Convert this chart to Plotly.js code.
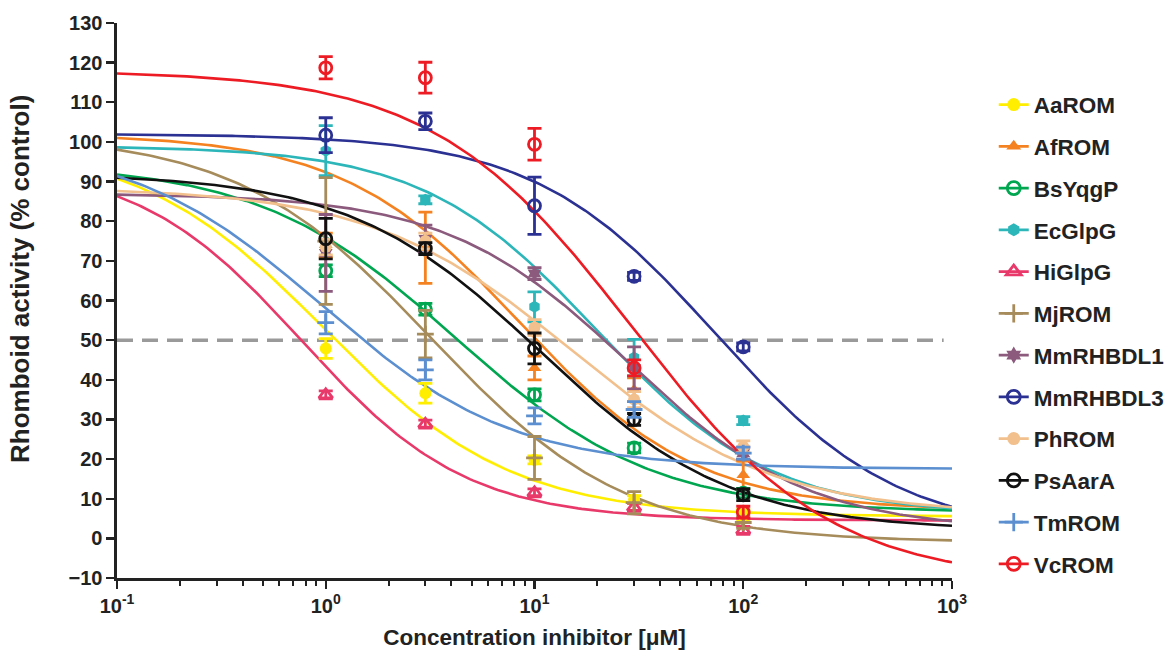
<!DOCTYPE html>
<html>
<head>
<meta charset="utf-8">
<script src="https://cdn.plot.ly/plotly-3.0.1.min.js"></script>
<style>
  html, body { margin: 0; padding: 0; background: #ffffff; }
  #chart { width: 1171px; height: 652px; }
</style>
</head>
<body>
<div id="chart"></div>
<script>
// ---------------- DATA ----------------
const doses = [1, 3, 10, 30, 100];            // µM
const seriesNames = ['AaROM', 'AfROM', 'BsYqgP', 'EcGlpG', 'HiGlpG', 'MjROM',
                     'MmRHBDL1', 'MmRHBDL3', 'PhROM', 'PsAarA', 'TmROM', 'VcROM'];

// mean activity (% control) at each dose
const AaROM    = [47.9, 36.6, 19.8, 9.8, 5.8];
const AfROM    = [74.0, 73.3, 43.0, 37.5, 16.0];
const BsYqgP   = [67.5, 57.8, 36.2, 22.8, 11.4];
const EcGlpG   = [97.8, 85.4, 58.4, 45.6, 29.7];
const HiGlpG   = [36.2, 28.8, 11.5, 7.8, 2.0];
const MjROM    = [75.0, 51.5, 20.3, 9.0, 4.0];
const MmRHBDL1 = [72.0, 75.5, 66.8, 43.0, 21.5];
const MmRHBDL3 = [101.7, 105.2, 83.9, 66.1, 48.3];
const PhROM    = [73.5, 75.0, 53.2, 35.0, 23.1];
const PsAarA   = [75.6, 73.1, 47.9, 30.0, 11.0];
const TmROM    = [54.4, 42.5, 30.9, 32.5, 21.5];
const VcROM    = [118.7, 116.2, 99.4, 43.0, 6.6];

// error (SEM) at each dose
const AaROM_err    = [2.5, 2.5, 1.0, 1.0, 1.5];
const AfROM_err    = [3.0, 9.0, 3.0, 3.0, 3.5];
const BsYqgP_err   = [1.5, 1.5, 1.5, 1.2, 1.2];
const EcGlpG_err   = [6.3, 1.0, 3.8, 4.6, 1.0];
const HiGlpG_err   = [1.0, 1.0, 1.0, 1.0, 1.0];
const MjROM_err    = [16.0, 6.0, 5.4, 2.8, 1.5];
const MmRHBDL1_err = [9.7, 3.5, 1.5, 5.3, 1.5];
const MmRHBDL3_err = [4.4, 2.1, 7.2, 1.0, 1.0];
const PhROM_err    = [2.0, 2.0, 2.0, 2.0, 1.5];
const PsAarA_err   = [5.1, 1.5, 3.9, 1.5, 1.5];
const TmROM_err    = [2.8, 2.5, 2.0, 2.0, 1.5];
const VcROM_err    = [2.8, 3.9, 4.0, 2.0, 1.5];

// four-parameter logistic fit of each series (top, bottom, IC50 [µM], Hill slope)
const fitTop    = [100, 102, 94.5, 99, 95, 102, 87, 102, 88.5, 92, 100, 118];
const fitBottom = [5.5, 7, 6.5, 6, 4.5, -1, 2, 1, 6, 2, 17.5, -11];
const fitIC50   = [0.99, 8.5, 4.2, 19.9, 0.77, 3.2, 28, 74, 15.2, 10.7, 0.96, 29.1];
const fitHill   = [0.97, 1.02, 0.92, 1.04, 1.1, 0.93, 1.0, 1.0, 0.9, 0.95, 0.95, 0.91];

const halfActivity = 50;   // dashed reference level
const xRange = [0.1, 1000];
const xTickVals = [0.1, 1, 10, 100, 1000];
const xTickText = ['10<sup>-1</sup>', '10<sup>0</sup>', '10<sup>1</sup>', '10<sup>2</sup>', '10<sup>3</sup>'];
const yRange = [-10, 130];

// ---------------- STYLE ----------------
const colors = ['#FFEE00', '#F58220', '#00A650', '#2DB6B9', '#E8396A', '#A68B5B',
                '#8B5A7D', '#2B3192', '#F2C08C', '#111111', '#5B8FD0', '#ED1C24'];
const symbols = ['circle', 'triangle-up', 'circle-open', 'hexagon', 'triangle-up-open',
                 'cross-thin-open', 'hexagram', 'circle-open', 'circle', 'circle-open',
                 'cross-thin-open', 'circle-open'];

const means = [AaROM, AfROM, BsYqgP, EcGlpG, HiGlpG, MjROM, MmRHBDL1, MmRHBDL3, PhROM, PsAarA, TmROM, VcROM];
const errs  = [AaROM_err, AfROM_err, BsYqgP_err, EcGlpG_err, HiGlpG_err, MjROM_err,
               MmRHBDL1_err, MmRHBDL3_err, PhROM_err, PsAarA_err, TmROM_err, VcROM_err];

function markerFor(i, size) {
  const open = symbols[i].indexOf('open') >= 0;
  return {
    symbol: symbols[i], size: size, color: colors[i],
    line: { color: colors[i], width: open ? 2.8 : 0 }
  };
}

// sample positions along the log axis for the fitted curves
const nCurve = 240;
const lo = Math.log10(xRange[0]), hi = Math.log10(xRange[1]);
const curveX = [];
for (let k = 0; k < nCurve; k++) curveX.push(Math.pow(10, lo + (hi - lo) * k / (nCurve - 1)));

const traces = [];
// fitted curves
seriesNames.forEach((nm, i) => {
  const y = curveX.map(x => fitBottom[i] + (fitTop[i] - fitBottom[i]) /
                              (1 + Math.pow(x / fitIC50[i], fitHill[i])));
  traces.push({
    type: 'scatter', mode: 'lines', x: curveX, y: y,
    line: { color: colors[i], width: 2.6 },
    showlegend: false, hoverinfo: 'skip'
  });
});
// data points with error bars
seriesNames.forEach((nm, i) => {
  traces.push({
    type: 'scatter', mode: 'markers', x: doses, y: means[i],
    marker: markerFor(i, 12),
    error_y: { type: 'data', array: errs[i], visible: true,
               color: colors[i], thickness: 2.8, width: 7 },
    showlegend: false, name: nm
  });
});
// legend entries
seriesNames.forEach((nm, i) => {
  traces.push({
    type: 'scatter', mode: 'lines+markers', x: [null], y: [null], name: nm,
    legendgroup: nm,
    line: { color: colors[i], width: 2.8 },
    marker: markerFor(i, 13),
    showlegend: true
  });
});

const fontFam = '"Liberation Sans", Arial, Helvetica, sans-serif';
const layout = {
  width: 1171, height: 652,
  margin: { l: 117, r: 219, t: 23, b: 74, autoexpand: false },
  paper_bgcolor: '#ffffff', plot_bgcolor: '#ffffff',
  font: { family: fontFam, color: '#222222', size: 20, weight: 700 },
  showlegend: true,
  legend: {
    x: 1.05, xanchor: 'left', y: 0.891, yanchor: 'top',
    font: { family: fontFam, size: 22.5, color: '#222222', weight: 700 },
    tracegroupgap: 9.5, itemwidth: 30, bgcolor: 'rgba(0,0,0,0)'
  },
  xaxis: {
    type: 'log', range: [lo, hi], tickmode: 'array', tickvals: xTickVals, ticktext: xTickText,
    showline: true, linecolor: '#222222', linewidth: 2.6,
    ticks: 'outside', ticklen: 8, tickwidth: 2.4, tickcolor: '#222222',
    minor: { ticks: 'outside', tickmode: 'linear', dtick: 'D1', ticklen: 5, tickwidth: 2,
             tickcolor: '#222222', showgrid: false },
    showgrid: false, zeroline: false,
    tickfont: { family: fontFam, size: 20, color: '#222222', weight: 700 },
    title: { text: 'Concentration inhibitor [μM]', standoff: 14,
             font: { family: fontFam, size: 22.5, color: '#222222', weight: 700 } }
  },
  yaxis: {
    range: yRange, dtick: 10, tick0: 0,
    showline: true, linecolor: '#222222', linewidth: 2.6,
    ticks: 'outside', ticklen: 8, tickwidth: 2.4, tickcolor: '#222222',
    showgrid: false, zeroline: false,
    tickfont: { family: fontFam, size: 20, color: '#222222', weight: 700 }
  },
  annotations: [{
    text: 'Rhomboid activity (% control)', xref: 'paper', yref: 'paper',
    x: -0.116, y: 0.539, xanchor: 'center', yanchor: 'middle', textangle: -90,
    showarrow: false,
    font: { family: fontFam, size: 26, color: '#222222', weight: 700 }
  }],
  shapes: [{
    type: 'line', xref: 'paper', yref: 'y', x0: 0, x1: 0.99, y0: halfActivity, y1: halfActivity,
    line: { color: '#9A9A9A', width: 3.5, dash: '16px,9px' }, layer: 'below'
  }]
};

Plotly.newPlot('chart', traces, layout, { displayModeBar: false, staticPlot: true });
</script>
</body>
</html>
